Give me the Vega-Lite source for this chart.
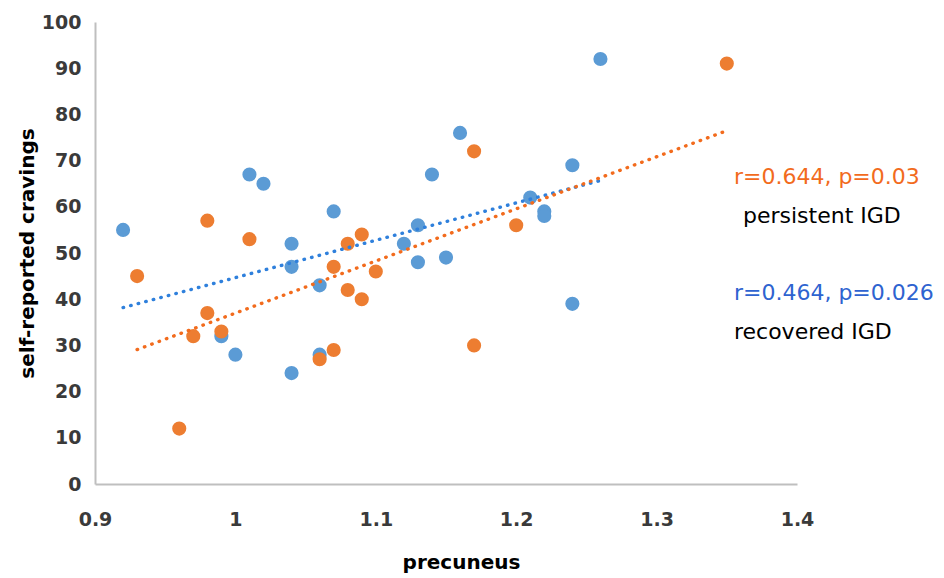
{
  "$schema": "https://vega.github.io/schema/vega-lite/v6.json",
  "width": 702,
  "height": 462,
  "autosize": "none",
  "padding": {"left": 95, "top": 22, "right": 147, "bottom": 94},
  "background": "white",
  "config": {
    "view": {"stroke": null},
    "axis": {
      "grid": false,
      "ticks": false,
      "labelFlush": false,
      "domainColor": "#BFBFBF",
      "domainWidth": 2,
      "labelFont": "DejaVu Sans",
      "labelFontWeight": "bold",
      "labelFontSize": 19,
      "labelColor": "#3A3A3A",
      "titleFont": "DejaVu Sans",
      "titleFontWeight": "bold",
      "titleFontSize": 20,
      "titleColor": "#000000"
    }
  },
  "datasets": {
    "points": [
      {"group": "recovered", "precuneus": 0.92, "craving": 55},
      {"group": "recovered", "precuneus": 0.99, "craving": 32},
      {"group": "recovered", "precuneus": 1.00, "craving": 28},
      {"group": "recovered", "precuneus": 1.01, "craving": 67},
      {"group": "recovered", "precuneus": 1.02, "craving": 65},
      {"group": "recovered", "precuneus": 1.04, "craving": 52},
      {"group": "recovered", "precuneus": 1.04, "craving": 47},
      {"group": "recovered", "precuneus": 1.04, "craving": 24},
      {"group": "recovered", "precuneus": 1.06, "craving": 43},
      {"group": "recovered", "precuneus": 1.06, "craving": 28},
      {"group": "recovered", "precuneus": 1.07, "craving": 59},
      {"group": "recovered", "precuneus": 1.12, "craving": 52},
      {"group": "recovered", "precuneus": 1.13, "craving": 56},
      {"group": "recovered", "precuneus": 1.13, "craving": 48},
      {"group": "recovered", "precuneus": 1.14, "craving": 67},
      {"group": "recovered", "precuneus": 1.15, "craving": 49},
      {"group": "recovered", "precuneus": 1.16, "craving": 76},
      {"group": "recovered", "precuneus": 1.21, "craving": 62},
      {"group": "recovered", "precuneus": 1.22, "craving": 59},
      {"group": "recovered", "precuneus": 1.22, "craving": 58},
      {"group": "recovered", "precuneus": 1.24, "craving": 69},
      {"group": "recovered", "precuneus": 1.24, "craving": 39},
      {"group": "recovered", "precuneus": 1.26, "craving": 92},
      {"group": "persistent", "precuneus": 0.93, "craving": 45},
      {"group": "persistent", "precuneus": 0.96, "craving": 12},
      {"group": "persistent", "precuneus": 0.97, "craving": 32},
      {"group": "persistent", "precuneus": 0.98, "craving": 57},
      {"group": "persistent", "precuneus": 0.98, "craving": 37},
      {"group": "persistent", "precuneus": 0.99, "craving": 33},
      {"group": "persistent", "precuneus": 1.01, "craving": 53},
      {"group": "persistent", "precuneus": 1.06, "craving": 27},
      {"group": "persistent", "precuneus": 1.07, "craving": 47},
      {"group": "persistent", "precuneus": 1.07, "craving": 29},
      {"group": "persistent", "precuneus": 1.08, "craving": 52},
      {"group": "persistent", "precuneus": 1.08, "craving": 42},
      {"group": "persistent", "precuneus": 1.09, "craving": 54},
      {"group": "persistent", "precuneus": 1.09, "craving": 40},
      {"group": "persistent", "precuneus": 1.10, "craving": 46},
      {"group": "persistent", "precuneus": 1.17, "craving": 72},
      {"group": "persistent", "precuneus": 1.17, "craving": 30},
      {"group": "persistent", "precuneus": 1.20, "craving": 56},
      {"group": "persistent", "precuneus": 1.35, "craving": 91}
    ],
    "notes": [
      {"label": "r=0.644, p=0.03", "kind": "persistent", "precuneus": 1.3551, "craving": 66.45},
      {"label": "persistent IGD", "kind": "text", "precuneus": 1.3615, "craving": 58.0},
      {"label": "r=0.464, p=0.026", "kind": "recovered", "precuneus": 1.3551, "craving": 41.34},
      {"label": "recovered IGD", "kind": "text", "precuneus": 1.3551, "craving": 32.9}
    ]
  },
  "encoding": {
    "x": {
      "field": "precuneus",
      "type": "quantitative",
      "scale": {"domain": [0.9, 1.4], "zero": false, "nice": false},
      "axis": {
        "title": "precuneus",
        "values": [0.9, 1.0, 1.1, 1.2, 1.3, 1.4],
        "format": "~g",
        "labelPadding": 26,
        "titlePadding": 23,
        "titleX": 366
      }
    },
    "y": {
      "field": "craving",
      "type": "quantitative",
      "scale": {"domain": [0, 100], "nice": false},
      "axis": {
        "title": "self-reported cravings",
        "values": [0, 10, 20, 30, 40, 50, 60, 70, 80, 90, 100],
        "labelPadding": 14,
        "titlePadding": 4
      }
    }
  },
  "layer": [
    {
      "data": {"name": "points"},
      "mark": {"type": "circle", "size": 200, "opacity": 1},
      "encoding": {
        "color": {
          "field": "group",
          "type": "nominal",
          "scale": {"domain": ["recovered", "persistent"], "range": ["#5B9BD5", "#ED7D31"]},
          "legend": null
        }
      }
    },
    {
      "data": {"name": "points"},
      "transform": [
        {"regression": "craving", "on": "precuneus", "groupby": ["group"]}
      ],
      "mark": {"type": "line", "strokeDash": [0.5, 7.3], "strokeCap": "round", "strokeWidth": 3.4},
      "encoding": {
        "color": {
          "field": "group",
          "type": "nominal",
          "scale": {"domain": ["recovered", "persistent"], "range": ["#2F80DC", "#F26B1D"]},
          "legend": null
        }
      }
    },
    {
      "data": {"name": "notes"},
      "mark": {"type": "text", "align": "left", "baseline": "middle", "font": "DejaVu Sans", "fontSize": 22},
      "encoding": {
        "text": {"field": "label"},
        "color": {
          "field": "kind",
          "type": "nominal",
          "scale": {"domain": ["persistent", "recovered", "text"], "range": ["#F26B1D", "#2E63D0", "#000000"]},
          "legend": null
        }
      }
    }
  ],
  "resolve": {"scale": {"color": "independent"}}
}
